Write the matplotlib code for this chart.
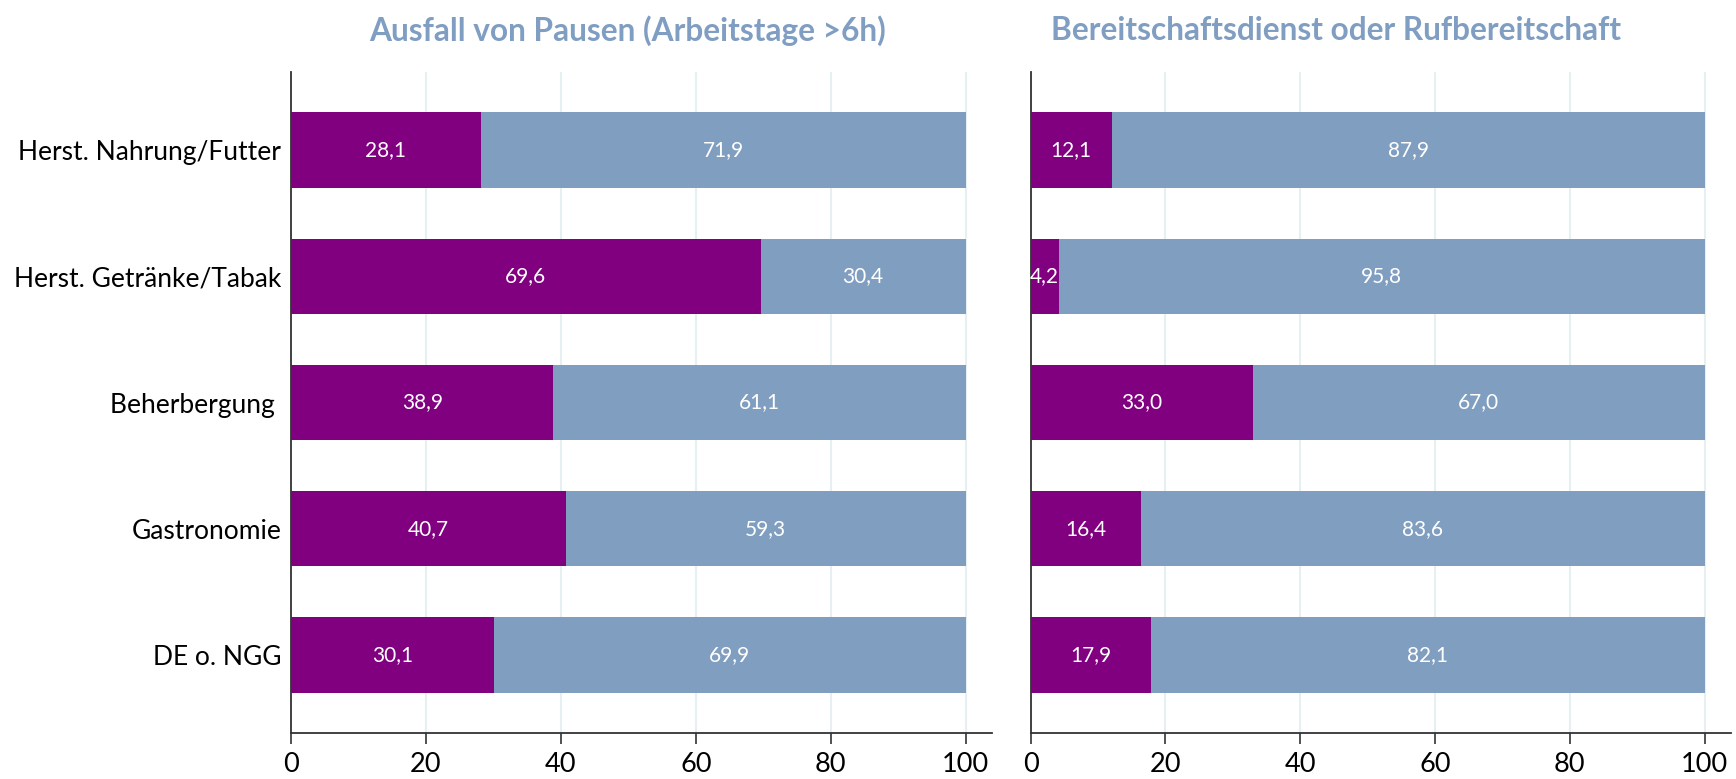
import matplotlib
matplotlib.use("Agg")
import matplotlib.pyplot as plt
import numpy as np

plt.rcParams['font.family'] = ['Lato', 'DejaVu Sans']

categories = ["Herst. Nahrung/Futter", "Herst. Getränke/Tabak", "Beherbergung ",
              "Gastronomie", "DE o. NGG"]

titles = ["Ausfall von Pausen (Arbeitstage >6h)",
          "Bereitschaftsdienst oder Rufbereitschaft"]

pausen_ja = [28.1, 69.6, 38.9, 40.7, 30.1]
pausen_nein = [71.9, 30.4, 61.1, 59.3, 69.9]

bereitschaft_ja = [12.1, 4.2, 33.0, 16.4, 17.9]
bereitschaft_nein = [87.9, 95.8, 67.0, 83.6, 82.1]

xticks = [0, 20, 40, 60, 80, 100]

purple = "#800080"
blue = "#809ec0"
title_color = "#809ec2"
grid_color = "#e6eff1"

W, H = 1736, 779
fig = plt.figure(figsize=(W / 100, H / 100), dpi=100)

axes_px = [(291, 992), (1030.5, 1731)]
top_px, bottom_px = 72, 733
title_x_px = [628, 1336]

panels = [(pausen_ja, pausen_nein), (bereitschaft_ja, bereitschaft_nein)]


def fmt(v):
    return f"{v:.1f}".replace(".", ",")


y = np.arange(len(categories))
for i, ((x0, x1), (ja, nein)) in enumerate(zip(axes_px, panels)):
    ax = fig.add_axes([x0 / W, 1 - bottom_px / H, (x1 - x0) / W,
                       (bottom_px - top_px) / H])
    ax.barh(y, ja, height=0.6, color=purple, zorder=3)
    ax.barh(y, nein, left=ja, height=0.6, color=blue, zorder=3)
    for yi, a, b in zip(y, ja, nein):
        ax.text(a / 2, yi, fmt(a), ha="center", va="center", color="white",
                fontsize=15, zorder=4)
        ax.text(a + b / 2, yi, fmt(b), ha="center", va="center", color="white",
                fontsize=15, zorder=4)
    ax.set_xlim(0, 103.9)
    ax.set_ylim(len(categories) - 1 + 0.62, -0.62)
    ax.set_xticks(xticks)
    ax.set_xticklabels([str(t) for t in xticks], fontsize=19.5)
    ax.tick_params(axis="x", length=8, width=1.2, color="#333333", pad=6)
    ax.tick_params(axis="y", length=0, pad=7)
    ax.set_yticks(y)
    if i == 0:
        ax.set_yticklabels(categories, fontsize=19)
    else:
        ax.set_yticklabels([])
    ax.grid(axis="x", color=grid_color, linewidth=1.5, zorder=0)
    ax.set_axisbelow(True)
    for s in ["top", "right"]:
        ax.spines[s].set_visible(False)
    for s in ["left", "bottom"]:
        ax.spines[s].set_color("#333333")
        ax.spines[s].set_linewidth(1.3)
    fig.text(title_x_px[i] / W, 1 - 31 / H, titles[i], ha="center", va="center",
             fontsize=22.8, fontweight="bold", color=title_color)

fig.savefig("out.png", dpi=100, facecolor="white")
